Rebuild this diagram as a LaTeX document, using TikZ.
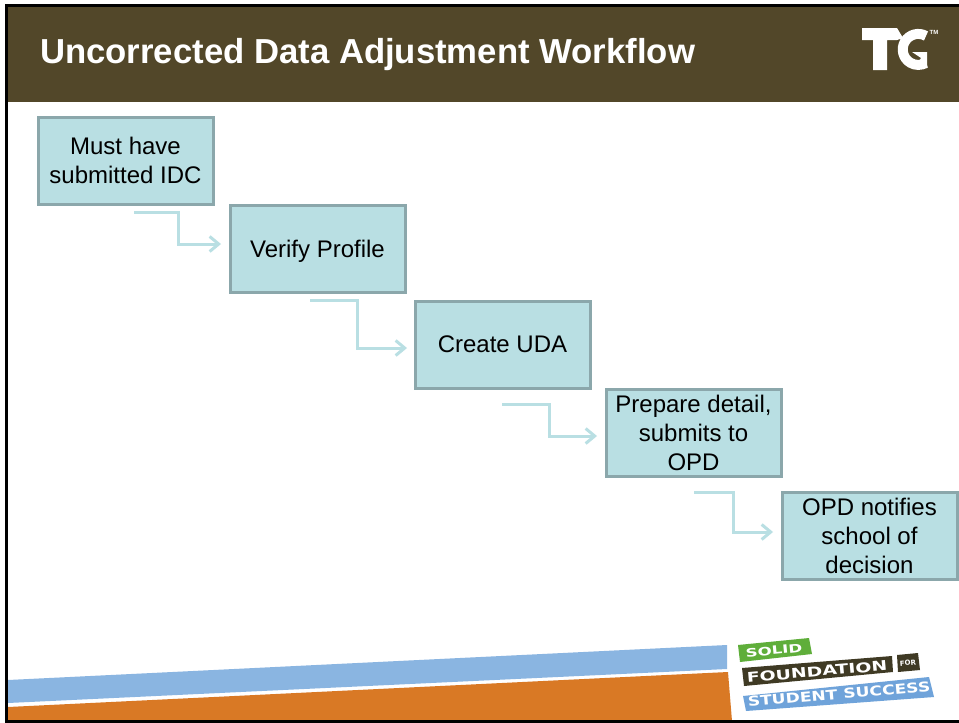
\documentclass[tikz,border=0pt]{standalone}
\usepackage{graphicx}
\usepackage{fontspec}
\setmainfont{Liberation Sans}
\newfontfamily\logofont{DejaVu Sans}
\usetikzlibrary{arrows.meta}
\definecolor{bannerc}{HTML}{524729}
\definecolor{boxfill}{HTML}{B9DFE3}
\definecolor{boxline}{HTML}{8BA7AB}
\definecolor{arrowc}{HTML}{B9DFE3}
\definecolor{bandblue}{HTML}{8AB5E1}
\definecolor{bandorange}{HTML}{D97925}
\definecolor{logogreen}{HTML}{5FAE3A}
\definecolor{logoblue}{HTML}{6FA3DA}
\definecolor{logodark}{HTML}{3F3A24}
\tikzset{
  stepbox/.style={draw=boxline,fill=boxfill,line width=3pt,minimum width=175pt,minimum height=87pt,inner sep=2pt,
    align=center,font=\fontsize{24}{29}\selectfont,text=black,
    execute at begin node={\vspace*{4pt}}},
  flow/.style={draw=arrowc,line width=3pt,-{Straight Barb[length=9pt,width=15pt,line width=3pt]}},
  logotxt/.style={inner sep=0pt,text=white}
}
\begin{document}
\begin{tikzpicture}[x=1pt,y=-1pt]
\useasboundingbox (0,0) rectangle (959,723);
\fill[white] (0,0) rectangle (959,723);
% banner
\fill[bannerc] (7,5) rectangle (959,102);
\node[anchor=west,text=white,font=\bfseries\fontsize{34.7}{40}\selectfont,inner sep=0pt] (title) at (40,55) {Uncorrected Data Adjustment Workflow};
% TG mark
\fill[white] (862,28) -- (897,28) -- (903,38) -- (897,40) -- (887,40) -- (887,70) -- (873,70) -- (873,40) -- (862,40) -- cycle;
\draw[white,line width=10pt] (926,36) arc[start angle=60,end angle=300,radius=15.5pt];
\fill[white] (912,52) -- (927,52) -- (927,68) -- (915,68) -- (921,58) -- cycle;
\node[text=white,font=\bfseries\fontsize{6}{6}\selectfont,inner sep=0pt] (tm) at (934,32) {TM};
% bands
\fill[bandblue] (8,680) -- (727,645) -- (727,669) -- (8,703) -- cycle;
\fill[bandorange] (8,707) -- (728,672) -- (732,721) -- (8,721) -- cycle;
% frame
\draw[black,line width=3pt] (959,5) -- (6.5,5) -- (6.5,721) -- (959,721);
% boxes
\node[stepbox] (a) at (125.5,160.5) {Must have\\submitted IDC};
\node[stepbox,text depth=0pt] (b) at (317.5,248.5) {Verify Profile};
\node[stepbox] (c) at (502.5,344.5) {Create UDA};
\node[stepbox] (d) at (693.5,432.5) {Prepare detail,\\submits to\\OPD};
\node[stepbox] (e) at (869.5,535.5) {OPD notifies\\school of\\decision};
% connector ends
\coordinate (a1) at (134,212); \coordinate (b0) at (221,244);
\coordinate (b1) at (310,300); \coordinate (c0) at (407,348);
\coordinate (c1) at (502,404); \coordinate (d0) at (597,436);
\coordinate (d1) at (694,492); \coordinate (e0) at (773,532);
\draw[flow] (a1) -- (178,212) -- (178,244) -- (b0);
\draw[flow] (b1) -- (357,300) -- (357,348) -- (c0);
\draw[flow] (c1) -- (549,404) -- (549,436) -- (d0);
\draw[flow] (d1) -- (733,492) -- (733,532) -- (e0);
% logo
\fill[logogreen] (738,645) -- (809,638) -- (812,654) -- (740,662) -- cycle;
\fill[logodark] (742,668) -- (892,656) -- (893,672) -- (744,686) -- cycle;
\fill[logodark] (897,655) -- (918,653) -- (920,670) -- (898,672) -- cycle;
\fill[logoblue] (743,696) -- (929,677) -- (934,697) -- (746,711) -- cycle;
\node[logotxt,rotate=5.5,font=\logofont\bfseries\fontsize{11.5}{11.5}\selectfont] (sol) at (774,650.5) {\scalebox{1.45}[1]{SOLID}};
\node[logotxt,rotate=5,font=\logofont\bfseries\fontsize{13.5}{13.5}\selectfont] (fou) at (817,671.5) {\scalebox{1.4}[1]{FOUNDATION}};
\node[logotxt,rotate=5,font=\logofont\bfseries\fontsize{7}{7}\selectfont] (for) at (908,663) {FOR};
\node[logotxt,rotate=5,font=\logofont\bfseries\fontsize{13.5}{13.5}\selectfont] (stu) at (839,694) {\scalebox{1.27}[1]{STUDENT SUCCESS}};
\end{tikzpicture}
\end{document}
